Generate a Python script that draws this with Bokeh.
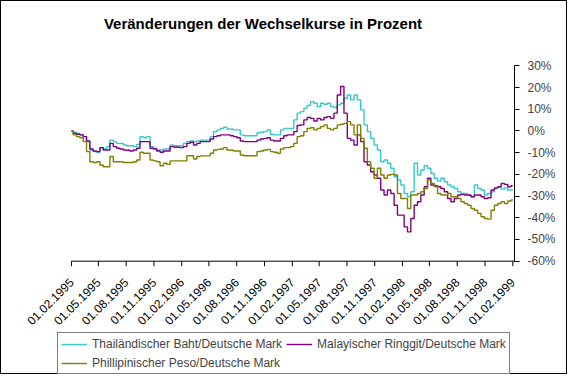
import pandas as pd
from math import pi
from bokeh.plotting import figure
from bokeh.models import (Range1d, FixedTicker, Legend, LegendItem,
                          PrintfTickFormatter, Label)
from bokeh.core.properties import value
from bokeh.embed import file_html
from bokeh.resources import INLINE

title = "Veränderungen der Wechselkurse in Prozent"
start_date = "1995-02-01"
end_date = "1999-02-01"
n_points = 133

thai = [
    0.0, -0.6, -1.1, -1.8, -2.6, -4.9, -8.8, -9.5, -9.8, -7.7,
    -8.3, -7.2, -4.2, -4.9, -5.7, -5.7, -6.5, -6.8, -6.8, -7.2,
    -6.2, -2.6, -3.1, -2.6, -7.2, -8.0, -8.8, -8.8, -8.3, -8.3,
    -6.5, -6.8, -6.8, -6.8, -5.7, -4.9, -4.6, -4.9, -4.6, -4.3,
    -4.2, -4.2, -2.6, -0.3, 0.5, 1.2, 1.7, 0.9, 0.8, 0.5,
    0.5, -1.8, -2.2, -2.2, -2.2, -2.2, -0.8, -0.6, -0.3, 0.5,
    -1.5, -1.8, -1.8, 0.5, 1.2, 1.2, 1.2, 5.1, 8.2, 8.9,
    10.5, 11.7, 13.5, 12.8, 11.2, 12.8, 12.3, 12.8, 11.2, 10.8,
    12.0, 12.8, 15.1, 16.6, 14.3, 16.6, 14.3, 9.7, 2.8, -0.3,
    -3.4, -6.5, -8.8, -14.2, -13.4, -14.9, -17.2, -21.1, -22.6, -24.9,
    -28.8, -30.3, -28.0, -14.9, -20.3, -18.0, -16.0, -17.2, -19.5, -21.8,
    -23.1, -21.8, -23.4, -24.9, -25.7, -26.5, -28.0, -28.8, -28.8, -29.5,
    -30.3, -24.9, -26.5, -27.2, -29.5, -28.8, -28.0, -26.5, -25.7, -26.8,
    -26.2, -27.2, -27.2]

malay = [
    0.0, -1.1, -1.5, -1.8, -2.6, -4.6, -8.3, -9.2, -9.5, -7.7,
    -8.8, -8.8, -5.7, -7.2, -8.0, -8.3, -8.8, -8.9, -9.2, -8.8,
    -8.0, -4.9, -4.9, -4.9, -8.0, -8.3, -9.2, -9.8, -9.2, -9.2,
    -7.2, -7.4, -7.5, -7.7, -7.2, -5.7, -5.2, -6.5, -5.7, -4.9,
    -4.9, -4.9, -3.7, -2.6, -2.2, -1.8, -1.8, -1.8, -2.2, -2.6,
    -3.1, -4.6, -4.9, -4.9, -4.9, -4.9, -4.2, -3.7, -3.4, -3.1,
    -4.2, -4.6, -4.6, -3.4, -2.2, -1.8, -1.8, -0.3, 2.5, 2.8,
    5.1, 6.2, 5.8, 4.6, 5.8, 5.1, 6.2, 6.6, 5.8, 8.2,
    16.6, 20.5, 8.2, -3.4, -4.2, -6.5, -1.8, -4.9, -14.2, -15.7,
    -18.8, -20.3, -21.8, -27.2, -29.5, -27.2, -28.8, -34.2, -38.8, -38.8,
    -44.2, -46.5, -40.3, -34.2, -32.6, -29.5, -25.7, -21.8, -24.9, -25.2,
    -25.7, -26.5, -28.0, -31.1, -32.6, -31.1, -29.5, -29.2, -29.5, -29.5,
    -30.3, -29.5, -29.5, -30.3, -31.1, -30.8, -27.2, -26.2, -25.7, -24.2,
    -24.6, -25.7, -25.2]

phil = [
    0.0, -1.8, -2.6, -3.1, -4.9, -9.5, -14.2, -14.5, -14.2, -15.7,
    -16.5, -16.5, -11.8, -14.2, -14.2, -14.2, -14.5, -14.5, -14.5, -14.2,
    -13.4, -9.8, -10.3, -10.3, -13.4, -13.8, -14.2, -16.0, -14.9, -15.4,
    -13.8, -13.8, -13.8, -13.8, -13.8, -11.4, -11.4, -12.9, -11.8, -11.5,
    -11.5, -11.5, -10.3, -8.8, -8.5, -8.3, -7.7, -8.8, -8.9, -9.2,
    -9.2, -11.1, -11.4, -11.4, -11.4, -11.4, -9.5, -9.2, -8.8, -8.5,
    -9.5, -9.8, -10.3, -8.3, -7.7, -7.7, -7.2, -5.7, -2.6, -2.2,
    -0.3, 1.2, 1.5, 0.5, 1.2, 2.0, 2.8, 1.2, 0.5, 1.2,
    2.8, 3.1, 3.5, 4.3, 2.8, -1.8, 2.8, -3.4, -8.0, -14.2,
    -17.2, -21.8, -17.2, -20.3, -21.8, -20.3, -20.0, -20.3, -28.8, -31.1,
    -31.1, -35.7, -29.5, -29.5, -28.8, -28.0, -26.5, -22.6, -24.2, -25.7,
    -28.8, -29.5, -29.5, -28.8, -30.3, -30.3, -31.1, -32.6, -33.4, -34.2,
    -35.7, -36.5, -38.0, -39.5, -40.3, -40.6, -36.5, -34.2, -33.4, -32.6,
    -33.4, -32.3, -31.8]

series_labels = ["Thailändischer Baht/Deutsche Mark",
                 "Malayischer Ringgit/Deutsche Mark",
                 "Phillipinischer Peso/Deutsche Mark"]
series_colors = ["#33CCCC", "#800080", "#808000"]

tick_dates = ["1995-02-01", "1995-05-01", "1995-08-01", "1995-11-01",
              "1996-02-01", "1996-05-01", "1996-08-01", "1996-11-01",
              "1997-02-01", "1997-05-01", "1997-08-01", "1997-11-01",
              "1998-02-01", "1998-05-01", "1998-08-01", "1998-11-01",
              "1999-02-01"]
y_ticks = [30, 20, 10, 0, -10, -20, -30, -40, -50, -60]
y_min, y_max = -60, 30

# ---- layout (pixels) ----
W, H = 567, 374
BORDER = 1
CW, CH = W - 2 * BORDER, H - 2 * BORDER   # canvas inside the outer border
RIGHT_PANEL = 54
FRAME_W = CW - RIGHT_PANEL
TICK0_PX, TICKN_PX = 69.7, 509.3   # first / last category tick (canvas px)
YTOP_PX, YBOT_PX = 64.0, 258.3     # 30% and -60%
FONT = "Liberation Sans"

dates = pd.date_range(start_date, end_date, periods=n_points)
tick_ms = [pd.Timestamp(d).value / 1e6 for d in tick_dates]
tick_labels = [pd.Timestamp(d).strftime("%d.%m.%Y") for d in tick_dates]

ms_per_px = (tick_ms[-1] - tick_ms[0]) / (TICKN_PX - TICK0_PX)
x_start = tick_ms[0] - TICK0_PX * ms_per_px
x_end = tick_ms[0] + (FRAME_W - TICK0_PX) * ms_per_px
u_per_px = (y_max - y_min) / (YBOT_PX - YTOP_PX)
y_top = y_max + YTOP_PX * u_per_px
y_bot = y_min - (CH - YBOT_PX) * u_per_px

p = figure(width=W, height=H, x_axis_location=None, y_axis_location="right",
           x_range=Range1d(x_start, x_end), y_range=Range1d(y_bot, y_top),
           output_backend="svg", toolbar_location=None,
           min_border_left=0, min_border_right=RIGHT_PANEL,
           min_border_top=0, min_border_bottom=0)
p.styles = {"border": "1px solid black", "box-sizing": "border-box"}
p.outline_line_color = None
p.grid.visible = False
p.background_fill_color = "white"
p.border_fill_color = "white"

# title
p.add_layout(Label(x=x_start + 102 * ms_per_px, y=y_top - 22 * u_per_px,
                   text=title, text_font=FONT, text_font_size="15px",
                   text_font_style="bold", text_baseline="middle",
                   text_align="left", text_color="black"))

renderers = []
for vals, col in zip([thai, malay, phil], series_colors):
    r = p.step(dates, vals, line_color=col, line_width=1.4, mode="center")
    renderers.append(r)

# category (date) axis along the -60% line
p.segment(x0=[tick_ms[0]], y0=[y_min], x1=[x_end], y1=[y_min],
          line_color="black", line_width=1)
p.segment(x0=tick_ms, y0=[y_min] * len(tick_ms), x1=tick_ms,
          y1=[y_min - 5 * u_per_px] * len(tick_ms),
          line_color="black", line_width=1)
p.text(x=tick_ms, y=[y_min] * len(tick_ms), text=tick_labels, angle=pi / 4,
       text_align="right", text_baseline="middle", x_offset=0, y_offset=19,
       text_font=value(FONT), text_font_size="12px", text_color="black")

ya = p.yaxis[0]
ya.bounds = (y_min, y_max)
ya.ticker = FixedTicker(ticks=y_ticks)
ya.formatter = PrintfTickFormatter(format="%d%%")
ya.major_label_text_font = FONT
ya.major_label_text_font_size = "12px"
ya.major_label_standoff = 8
ya.major_tick_out = 5
ya.major_tick_in = 0
ya.minor_tick_out = 0
ya.minor_tick_in = 0
ya.axis_line_color = "black"

legend = Legend(items=[LegendItem(label=l, renderers=[r])
                       for l, r in zip(series_labels, renderers)],
                location=(56, 1), orientation="horizontal", ncols=2)
legend.label_text_font = FONT
legend.label_text_font_size = "12px"
legend.border_line_color = "black"
legend.border_line_width = 1
legend.glyph_width = 26
legend.glyph_height = 12
legend.label_standoff = 5
legend.spacing = 4
legend.padding = 3
legend.margin = 0
legend.label_height = 15
legend.background_fill_color = "white"
legend.background_fill_alpha = 1
p.add_layout(legend, "center")

open("out.html", "w").write(file_html(p, INLINE))
